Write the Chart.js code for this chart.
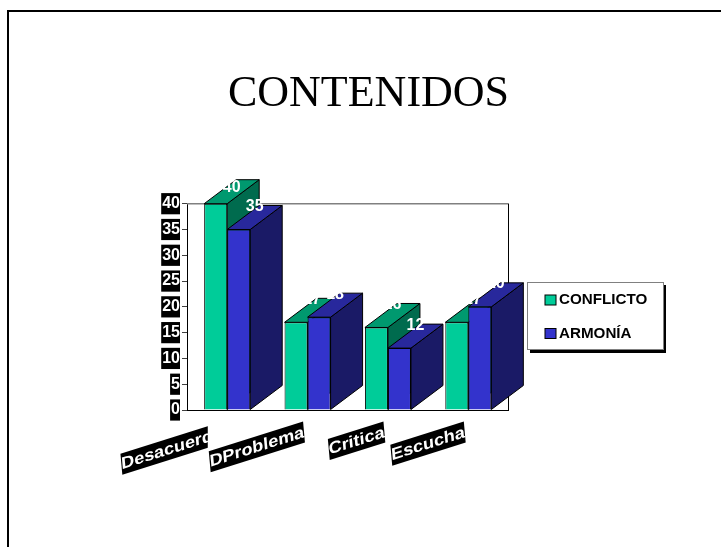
<!DOCTYPE html>
<html>
<head>
<meta charset="utf-8">
<style>
  html, body { margin: 0; padding: 0; background: #fff; overflow: hidden; }
  #wrap { width: 721px; height: 547px; }
</style>
<script src="https://cdn.jsdelivr.net/npm/chart.js@4/dist/chart.umd.min.js"></script>
</head>
<body>
<div id="wrap"><canvas id="chart"></canvas></div>
<script>
const categories = ["Desacuerdo", "DProblema", "Critica", "Escucha"];
const conflicto = [40, 17, 16, 17];
const armonia = [35, 18, 12, 20];

// front, top, side
const greenFaces = ["#00CC99", "#00996F", "#006B4E"];
const blueFaces = ["#3333CC", "#28289C", "#1A1A66"];
const DEPTH_X = 32, DEPTH_Y = 24;

function face(ctx, pts, fill) {
    ctx.beginPath();
    pts.forEach((p, i) => i ? ctx.lineTo(p[0], p[1]) : ctx.moveTo(p[0], p[1]));
    ctx.closePath();
    ctx.fillStyle = fill;
    ctx.fill();
    ctx.lineWidth = 1;
    ctx.strokeStyle = "#000";
    ctx.stroke();
}

// --- frame, 3D faces, labels and legend ---
const extras = {
    id: "extras",
    beforeDatasetsDraw(chart) {
        const { ctx, chartArea: a } = chart;
        ctx.save();
        // page border
        ctx.fillStyle = "#000";
        ctx.fillRect(7, 10, 714, 2);
        ctx.fillRect(7, 10, 2, 537);
        // plot frame
        ctx.strokeStyle = "#808080";
        ctx.lineWidth = 1.5;
        ctx.beginPath(); ctx.moveTo(a.left, a.top); ctx.lineTo(a.right, a.top); ctx.stroke();
        ctx.strokeStyle = "#000";
        ctx.lineWidth = 1;
        ctx.beginPath(); ctx.moveTo(a.right, a.top); ctx.lineTo(a.right, a.bottom); ctx.stroke();
        // side and top faces, fronts are the library's bars
        chart.data.datasets.forEach((ds, d) => {
            const faces = d === 0 ? greenFaces : blueFaces;
            chart.getDatasetMeta(d).data.forEach(bar => {
                const l = bar.x - bar.width / 2, r = bar.x + bar.width / 2, t = bar.y, b = bar.base;
                face(ctx, [[r, t], [r + DEPTH_X, t - DEPTH_Y], [r + DEPTH_X, b - DEPTH_Y], [r, b]], faces[2]);
                face(ctx, [[l, t], [l + DEPTH_X, t - DEPTH_Y], [r + DEPTH_X, t - DEPTH_Y], [r, t]], faces[1]);
            });
        });
        ctx.restore();
    },
    afterDatasetsDraw(chart) {
        const { ctx, scales } = chart;
        ctx.save();
        // value labels, white, so they vanish over the white page like the original
        ctx.font = "bold 16px 'Liberation Sans'";
        ctx.fillStyle = "#fff";
        ctx.textAlign = "center";
        ctx.textBaseline = "middle";
        chart.data.datasets.forEach((ds, d) => {
            chart.getDatasetMeta(d).data.forEach((bar, i) => {
                ctx.fillText(ds.data[i], bar.x + 16, Math.max(bar.y - 23, 188));
            });
        });
        // slanted and sheared category labels, each with its own white cell
        ctx.font = "bold 16.5px 'Liberation Sans'";
        const angle = -17.5 * Math.PI / 180;
        const stretch = 1.135;
        categories.forEach((name, i) => {
            const x = scales.x.getPixelForTick(i) - 4.5;
            const y = scales.x.top + 11.5;
            const w = ctx.measureText(name).width;
            const dx = w * stretch * Math.cos(angle);
            if (i > 0) {
                ctx.fillStyle = "#fff";
                ctx.fillRect(x - dx - 1, y - 1, dx + 1, -w * stretch * Math.sin(angle) + 22);
            }
            ctx.save();
            ctx.transform(stretch * Math.cos(angle), stretch * Math.sin(angle), 0.09, 1, x, y);
            ctx.fillStyle = "#000";
            ctx.fillRect(-w, 0, w, 21);
            ctx.fillStyle = "#fff";
            ctx.textAlign = "left";
            ctx.fillText(name, -w, 11);
            ctx.restore();
        });
        // legend
        ctx.fillStyle = "#000";
        ctx.fillRect(530, 285, 136, 68);
        ctx.fillStyle = "#fff";
        ctx.fillRect(527, 282, 137, 68);
        ctx.strokeStyle = "#808080";
        ctx.lineWidth = 1;
        ctx.strokeRect(527.5, 282.5, 136, 67);
        ctx.font = "bold 15.2px 'Liberation Sans'";
        ctx.textAlign = "left";
        chart.data.datasets.forEach((ds, d) => {
            const y = 300 + d * 33.5;
            ctx.fillStyle = ds.backgroundColor;
            ctx.fillRect(545, y - 5, 11, 10);
            ctx.strokeStyle = "#000";
            ctx.strokeRect(545, y - 5, 11, 10);
            ctx.fillStyle = "#000";
            ctx.fillText(ds.label, 559, y);
        });
        ctx.restore();
    }
};

new Chart(document.getElementById("chart"), {
    type: "bar",
    data: {
        labels: categories,
        datasets: [
            { label: "CONFLICTO", data: conflicto, backgroundColor: greenFaces[0] },
            { label: "ARMONÍA", data: armonia, backgroundColor: blueFaces[0] }
        ]
    },
    options: {
        responsive: true,
        maintainAspectRatio: false,
        animation: false,
        layout: { padding: { left: 16 } },
        categoryPercentage: 0.573,
        barPercentage: 1,
        borderColor: "#000",
        borderWidth: 1,
        plugins: {
            legend: { display: false },
            tooltip: { enabled: false },
            title: {
                display: true,
                text: "CONTENIDOS",
                color: "#000",
                font: { family: "'Liberation Serif'", size: 44, weight: "normal" },
                padding: { top: 67.6, bottom: 83.3 }
            }
        },
        scales: {
            x: {
                grid: { display: false },
                border: { color: "#000" },
                ticks: { display: false },
                afterFit(scale) { scale.height = 137; }
            },
            y: {
                min: 0,
                max: 40,
                afterFit(scale) { scale.width = 171; },
                grid: { drawOnChartArea: false, tickLength: 5, tickColor: "#404040" },
                border: { color: "#000" },
                ticks: {
                    stepSize: 5,
                    color: "#fff",
                    padding: 2,
                    font: { family: "'Liberation Sans'", size: 16, weight: "bold" },
                    showLabelBackdrop: true,
                    backdropColor: "#000",
                    backdropPadding: { left: 1, right: 0, top: 1, bottom: 1 }
                }
            },
            // keeps the room for the legend on the right
            spare: {
                position: "right",
                display: true,
                grid: { display: false },
                border: { display: false },
                ticks: { display: false },
                afterFit(scale) { scale.width = 212.5; }
            }
        }
    },
    plugins: [extras]
});
</script>
</body>
</html>
